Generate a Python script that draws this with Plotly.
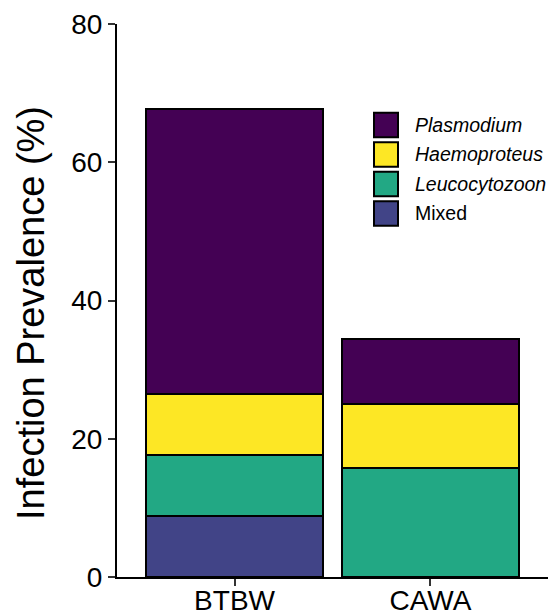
import plotly.graph_objects as go

categories = ["BTBW", "CAWA"]
series_names = ["Mixed", "Leucocytozoon", "Haemoproteus", "Plasmodium"]
mixed = [8.8, 0.0]
leucocytozoon = [8.9, 15.7]
haemoproteus = [8.8, 9.3]
plasmodium = [41.2, 9.4]
series_values = [mixed, leucocytozoon, haemoproteus, plasmodium]
colors = ["#414487", "#22A884", "#FDE725", "#440154"]
italic = [False, True, True, True]
y_ticks = [0, 20, 40, 60, 80]

W, H = 558, 615
L, R, T, B = 117, 10, 24, 38
PW, PH = W - L - R, H - T - B

def px_x(p):
    return (p - L) / PW

def px_y(p):
    return (H - B - p) / PH

FONT = "Liberation Sans, Arial, sans-serif"

fig = go.Figure()
for name, vals, col in zip(series_names, series_values, colors):
    fig.add_trace(go.Bar(
        x=categories, y=vals, name=name, width=0.9,
        marker=dict(color=col, line=dict(color="black", width=2)),
        showlegend=False,
    ))

# legend drawn in paper coordinates (top item first)
key_left, key_right = 374, 398
first_center, step, half_h = 125, 29.5, 12.2
for i, idx in enumerate(reversed(range(len(series_names)))):
    cy = first_center + i * step
    fig.add_shape(type="rect", xref="paper", yref="paper",
                  x0=px_x(key_left), x1=px_x(key_right),
                  y0=px_y(cy + half_h), y1=px_y(cy - half_h),
                  fillcolor=colors[idx], line=dict(color="black", width=2))
    label = f"<i>{series_names[idx]}</i>" if italic[idx] else series_names[idx]
    fig.add_annotation(xref="paper", yref="paper", x=px_x(413), y=px_y(cy),
                       text=label, showarrow=False,
                       xanchor="left", yanchor="middle",
                       font=dict(size=19.5, color="black", family=FONT))

fig.add_annotation(xref="paper", yref="paper", x=px_x(31), y=px_y(313),
                   text="Infection Prevalence (%)", textangle=-90, showarrow=False,
                   xanchor="center", yanchor="middle",
                   font=dict(size=38, color="black", family=FONT))

fig.update_layout(
    barmode="stack",
    width=W, height=H,
    margin=dict(l=L, r=R, t=T, b=B, autoexpand=False),
    plot_bgcolor="white", paper_bgcolor="white",
    font=dict(family=FONT, color="black"),
)
fig.update_xaxes(
    range=[-0.6, 1.6], showline=True, linecolor="black", linewidth=2,
    ticks="outside", ticklen=7, tickwidth=2, tickcolor="#333",
    tickfont=dict(size=28, color="black"), showgrid=False, zeroline=False,
    automargin=False, ticklabelstandoff=-10,
)
fig.update_yaxes(
    range=[0, 80], tickvals=y_ticks, showline=True, linecolor="black", linewidth=2,
    ticks="outside", ticklen=7, tickwidth=2, tickcolor="#333",
    tickfont=dict(size=28, color="black"), showgrid=False, zeroline=False,
    automargin=False,
)
fig.write_html(
    "out.html",
    config={"displayModeBar": False},
    post_script="document.body.style.margin='0';document.body.style.overflow='hidden';",
)
